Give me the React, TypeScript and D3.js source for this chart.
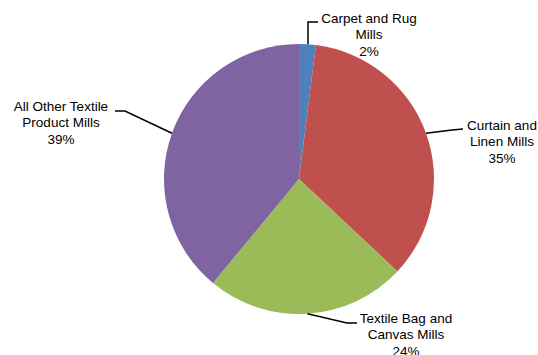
import React from "react";
import * as d3 from "d3";

const categories = ["Carpet and Rug Mills", "Curtain and Linen Mills", "Textile Bag and Canvas Mills", "All Other Textile Product Mills"];
const values = [2, 35, 24, 39];
const labelLines = [
  ["Carpet and Rug", "Mills", "2%"],
  ["Curtain and", "Linen Mills", "35%"],
  ["Textile Bag and", "Canvas Mills", "24%"],
  ["All Other Textile", "Product Mills", "39%"],
];
const colors = ["#4F81BD", "#C0504D", "#9BBB59", "#8064A2"];

const W = 538, H = 355;
const cx = 299, cy = 179, R = 135;

// label layout: text center x, first baseline y, elbow point, end point
const labelLayout = [
  { tx: 369, ty: 23, elbow: null as null | [number, number], vert: 22, end: [318, 22] },
  { tx: 502, ty: 130, elbow: [452, 130], end: [463, 129] },
  { tx: 406, ty: 323, elbow: [347, 323], end: [357, 323] },
  { tx: 61, ty: 111, elbow: [125, 111], end: [115, 111] },
];

export default function App() {
  const pie = d3.pie<number>().sort(null).value((d) => d)(values);
  const arc = d3.arc<d3.PieArcDatum<number>>().innerRadius(0).outerRadius(R);
  const fontSize = 13.5;
  const lh = 16.3;
  return (
    <svg width={W} height={H} style={{ position: "absolute", left: 0, top: 0, background: "#fff" }} fontFamily="'Liberation Sans', Arial, sans-serif">
      <g transform={`translate(${cx},${cy})`}>
        {pie.map((p, i) => (
          <path key={categories[i]} d={arc(p) || ""} fill={colors[i]} />
        ))}
      </g>
      {pie.map((p, i) => {
        const mid = (p.startAngle + p.endAngle) / 2;
        const sx = cx + R * Math.sin(mid);
        const sy = cy - R * Math.cos(mid);
        const L = labelLayout[i] as any;
        let pts: [number, number][];
        if (i === 0) {
          pts = [[sx + 0.5, sy], [sx + 0.5, L.vert], L.end];
        } else {
          pts = [[sx, sy], L.elbow, L.end];
        }
        return (
          <g key={"l" + i}>
            <polyline points={pts.map((q) => q.join(",")).join(" ")} fill="none" stroke="#000" strokeWidth={1.5} />
            <text x={L.tx} y={L.ty} textAnchor="middle" fontSize={fontSize} fill="#000">
              {labelLines[i].map((t, j) => (
                <tspan key={j} x={L.tx} y={L.ty + j * lh}>{t}</tspan>
              ))}
            </text>
          </g>
        );
      })}
    </svg>
  );
}
